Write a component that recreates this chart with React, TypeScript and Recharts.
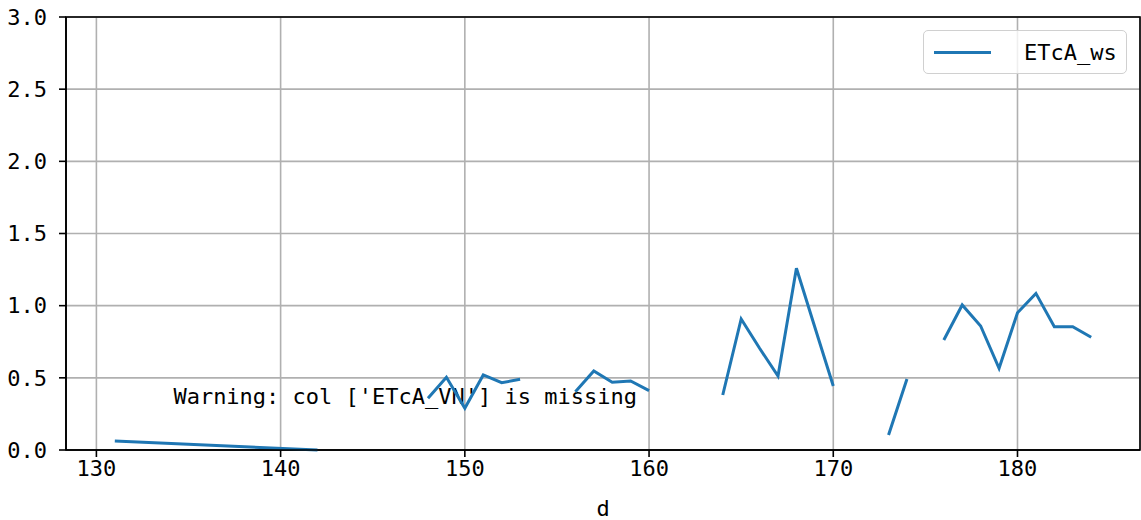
import React from 'react';
import { LineChart, Line, XAxis, YAxis, CartesianGrid, Customized } from 'recharts';

const days: number[] = [131, 142, 143, 148, 149, 150, 151, 152, 153, 154, 156, 157, 158, 159, 160, 161, 164, 165, 166, 167, 168, 169, 170, 171, 173, 174, 175, 176, 177, 178, 179, 180, 181, 182, 183, 184];
const etcaWs: (number | null)[] = [0.062, 0.0, null, 0.358, 0.504, 0.289, 0.52, 0.466, 0.49, null, 0.404, 0.547, 0.469, 0.478, 0.411, null, 0.381, 0.908, 0.705, 0.512, 1.259, 0.85, 0.443, null, 0.104, 0.492, null, 0.762, 1.005, 0.859, 0.566, 0.951, 1.085, 0.854, 0.854, 0.781];
const xTicks: number[] = [130, 140, 150, 160, 170, 180];
const yTicks: number[] = [0, 0.5, 1.0, 1.5, 2.0, 2.5, 3.0];
const seriesName = 'ETcA_ws';
const warningText = "Warning: col ['ETcA_VN'] is missing";

const data = days.map((d, i) => ({ d, ETcA_ws: etcaWs[i] }));

const FONT = '"DejaVu Sans Mono", "Liberation Mono", monospace';
const BLUE = '#1f77b4';

const WarningText = (props: any) => {
  const off = props.offset || { left: 66, top: 17, width: 1074, height: 433 };
  const x = off.left + off.width * 0.1;
  const y = off.top + off.height * 0.9;
  return (
    <text x={x} y={y - 3} fontFamily={FONT} fontSize={22} fill="#000">
      {warningText}
    </text>
  );
};

const Frame = (props: any) => {
  const off = props.offset || { left: 66, top: 17, width: 1074, height: 433 };
  return (
    <rect x={off.left} y={off.top} width={off.width} height={off.height} fill="none" stroke="#000" strokeWidth={1.6} />
  );
};

export default function App() {
  return (
    <div style={{ position: 'absolute', left: 0, top: 0, width: 1141, height: 520, background: '#fff' }}>
      <LineChart width={1141} height={520} data={data} margin={{ top: 17, right: 1, bottom: 0, left: 0 }}>
        <CartesianGrid stroke="#b0b0b0" strokeWidth={1.6} />
        <XAxis
          dataKey="d"
          type="number"
          domain={[128.35, 186.65]}
          ticks={xTicks}
          allowDataOverflow
          height={70}
          tickSize={7}
          tickMargin={3}
          stroke="#000"
          strokeWidth={1.6}
          tick={{ fill: '#000', fontFamily: FONT, fontSize: 22 }}
          label={{ value: 'd', position: 'insideBottom', offset: 4, fill: '#000', fontFamily: FONT, fontSize: 22 }}
        />
        <YAxis
          type="number"
          domain={[0, 3]}
          ticks={yTicks}
          width={66}
          tickSize={7}
          tickMargin={12}
          stroke="#000"
          strokeWidth={1.6}
          tickFormatter={(v: number) => v.toFixed(1)}
          tick={{ fill: '#000', fontFamily: FONT, fontSize: 22 }}
        />
        <Customized component={Frame} />
        <Customized component={WarningText} />
        <Line
          dataKey="ETcA_ws"
          name={seriesName}
          stroke={BLUE}
          strokeWidth={3}
          dot={false}
          activeDot={false}
          connectNulls={false}
          isAnimationActive={false}
        />
      </LineChart>
      <div
        style={{
          position: 'absolute',
          left: 923,
          top: 30,
          width: 204,
          height: 44,
          border: '1.5px solid #d0d0d0',
          borderRadius: 5,
          background: 'rgba(255,255,255,0.8)',
          display: 'flex',
          alignItems: 'center',
          boxSizing: 'border-box',
          fontFamily: FONT,
          fontSize: 22,
          color: '#000',
        }}
      >
        <div style={{ width: 57, height: 3, background: BLUE, marginLeft: 10 }} />
        <span style={{ marginLeft: 33 }}>{seriesName}</span>
      </div>
    </div>
  );
}
